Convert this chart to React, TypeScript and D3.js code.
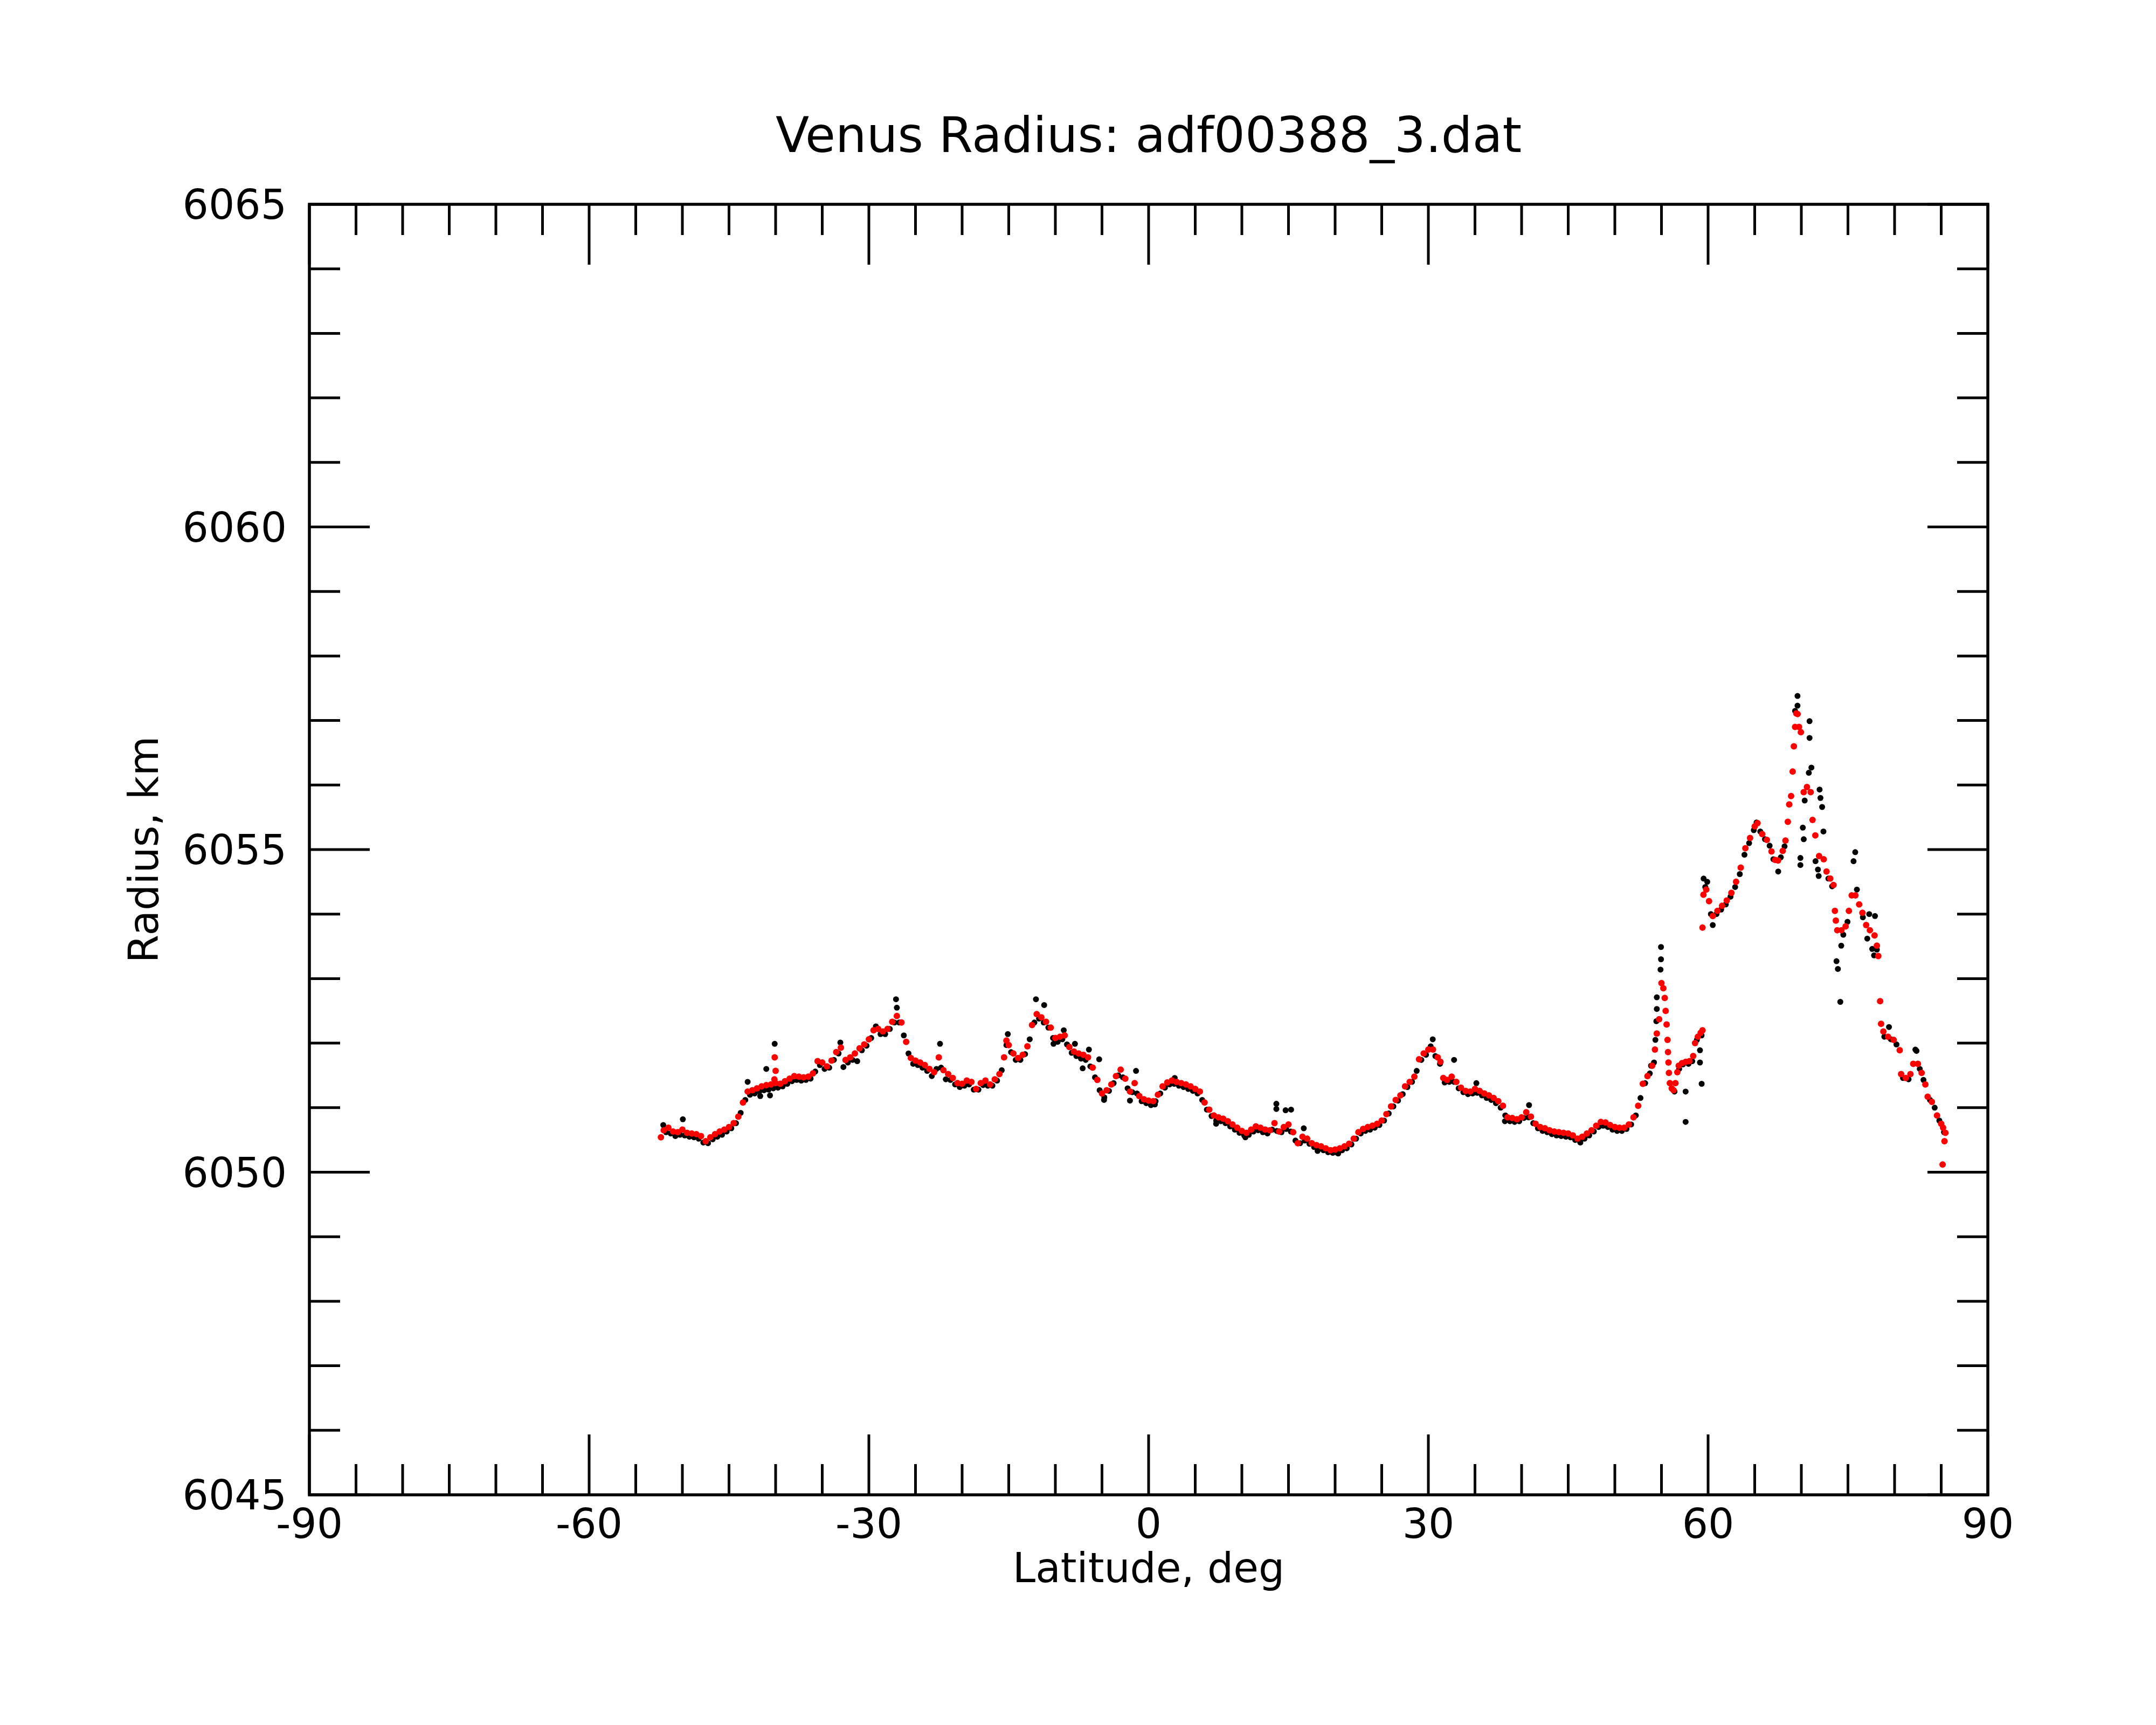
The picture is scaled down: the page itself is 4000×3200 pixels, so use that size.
import React from "react";
import * as d3 from "d3";

const WIDTH = 4000;
const HEIGHT = 3200;
const MARGINS = { top: 379, right: 312, bottom: 427, left: 574 };

const TITLE = "Venus Radius: adf00388_3.dat";
const X_LABEL = "Latitude, deg";
const Y_LABEL = "Radius, km";
const X_DOMAIN: [number, number] = [-90, 90];
const Y_DOMAIN: [number, number] = [6045, 6065];
const X_MAJOR = [-90, -60, -30, 0, 30, 60, 90];
const Y_MAJOR = [6045, 6050, 6055, 6060, 6065];

// smoothed profile (red), [latitude, radius]
const smoothed: [number, number][] = [
  [-52.3, 6050.54], [-52.0, 6050.65], [-51.5, 6050.69], [-51.0, 6050.63], [-50.5, 6050.62],
  [-50.0, 6050.66], [-49.5, 6050.61], [-49.0, 6050.6], [-48.5, 6050.59], [-48.0, 6050.56],
  [-47.5, 6050.48], [-47.0, 6050.54], [-46.5, 6050.59], [-46.0, 6050.63], [-45.5, 6050.66],
  [-45.0, 6050.7], [-44.5, 6050.76], [-44.0, 6050.86], [-43.5, 6051.08], [-43.0, 6051.25],
  [-42.5, 6051.27], [-42.0, 6051.3], [-41.5, 6051.33], [-41.0, 6051.35], [-40.5, 6051.36],
  [-40.1, 6051.78], [-40.0, 6051.57], [-40.13, 6051.44], [-40.0, 6051.38], [-39.5, 6051.37],
  [-39.0, 6051.41], [-38.5, 6051.45], [-38.0, 6051.49], [-37.5, 6051.48], [-37.0, 6051.47],
  [-36.5, 6051.48], [-36.0, 6051.53], [-35.5, 6051.72], [-35.0, 6051.7], [-34.5, 6051.64],
  [-34.0, 6051.73], [-33.5, 6051.86], [-33.0, 6051.93], [-32.5, 6051.74], [-32.0, 6051.78],
  [-31.5, 6051.84], [-31.0, 6051.92], [-30.5, 6051.98], [-30.0, 6052.06], [-29.5, 6052.2],
  [-29.0, 6052.22], [-28.5, 6052.18], [-28.0, 6052.22], [-27.5, 6052.33], [-27.0, 6052.42],
  [-26.5, 6052.32], [-26.0, 6052.02], [-25.5, 6051.77], [-25.0, 6051.73], [-24.5, 6051.7],
  [-24.0, 6051.66], [-23.5, 6051.6], [-23.0, 6051.55], [-22.5, 6051.78], [-22.0, 6051.58],
  [-21.5, 6051.52], [-21.0, 6051.46], [-20.5, 6051.38], [-20.0, 6051.37], [-19.5, 6051.42],
  [-19.0, 6051.4], [-18.5, 6051.29], [-18.0, 6051.38], [-17.5, 6051.42], [-17.0, 6051.36],
  [-16.5, 6051.44], [-16.0, 6051.52], [-15.5, 6051.78], [-15.25, 6052.04], [-15.0, 6051.97],
  [-14.5, 6051.84], [-14.0, 6051.77], [-13.5, 6051.82], [-13.0, 6051.95], [-12.5, 6052.28],
  [-12.0, 6052.45], [-11.5, 6052.4], [-11.0, 6052.33], [-10.5, 6052.24], [-10.0, 6052.08],
  [-9.5, 6052.1], [-9.0, 6052.12], [-8.5, 6051.94], [-8.0, 6051.87], [-7.5, 6051.84],
  [-7.0, 6051.82], [-6.5, 6051.78], [-6.0, 6051.62], [-5.5, 6051.43], [-5.0, 6051.22],
  [-4.5, 6051.27], [-4.0, 6051.36], [-3.5, 6051.49], [-3.0, 6051.59], [-2.5, 6051.45],
  [-2.0, 6051.25], [-1.5, 6051.38], [-1.0, 6051.18], [-0.5, 6051.13], [0.0, 6051.11],
  [0.5, 6051.1], [1.0, 6051.2], [1.5, 6051.33], [2.0, 6051.39], [2.5, 6051.42],
  [3.0, 6051.4], [3.5, 6051.38], [4.0, 6051.36], [4.5, 6051.33], [5.0, 6051.29],
  [5.5, 6051.25], [6.0, 6051.08], [6.5, 6050.97], [7.0, 6050.88], [7.5, 6050.85],
  [8.0, 6050.83], [8.5, 6050.79], [9.0, 6050.74], [9.5, 6050.69], [10.0, 6050.64],
  [10.5, 6050.61], [11.0, 6050.66], [11.5, 6050.71], [12.0, 6050.69], [12.5, 6050.66],
  [13.0, 6050.65], [13.5, 6050.76], [14.0, 6050.63], [14.5, 6050.7], [15.0, 6050.74],
  [15.5, 6050.62], [16.0, 6050.45], [16.5, 6050.55], [17.0, 6050.52], [17.5, 6050.45],
  [18.0, 6050.42], [18.5, 6050.4], [19.0, 6050.37], [19.5, 6050.34], [20.0, 6050.35],
  [20.5, 6050.37], [21.0, 6050.4], [21.5, 6050.44], [22.0, 6050.52], [22.5, 6050.62],
  [23.0, 6050.67], [23.5, 6050.7], [24.0, 6050.72], [24.5, 6050.75], [25.0, 6050.8],
  [25.5, 6050.9], [26.0, 6051.02], [26.5, 6051.12], [27.0, 6051.19], [27.5, 6051.33],
  [28.0, 6051.4], [28.5, 6051.48], [29.0, 6051.75], [29.5, 6051.84], [30.0, 6051.9],
  [30.5, 6051.9], [31.0, 6051.78], [31.3, 6051.71], [31.6, 6051.46], [32.0, 6051.43],
  [32.5, 6051.48], [33.0, 6051.4], [33.5, 6051.31], [34.0, 6051.26], [34.5, 6051.25],
  [35.0, 6051.29], [35.5, 6051.26], [36.0, 6051.22], [36.5, 6051.19], [37.0, 6051.15],
  [37.5, 6051.1], [38.0, 6051.03], [38.5, 6050.85], [39.0, 6050.84], [39.5, 6050.82],
  [40.0, 6050.85], [40.5, 6050.93], [41.0, 6050.86], [41.5, 6050.75], [42.0, 6050.7],
  [42.5, 6050.68], [43.0, 6050.65], [43.5, 6050.63], [44.0, 6050.62], [44.5, 6050.61],
  [45.0, 6050.6], [45.5, 6050.57], [46.0, 6050.52], [46.5, 6050.55], [47.0, 6050.6],
  [47.5, 6050.65], [48.0, 6050.72], [48.5, 6050.78], [49.0, 6050.77], [49.5, 6050.73],
  [50.0, 6050.7], [50.5, 6050.69], [51.0, 6050.69], [51.5, 6050.74], [52.0, 6050.85],
  [52.5, 6051.03], [53.0, 6051.37], [53.5, 6051.49], [54.0, 6051.65], [54.3, 6051.9],
  [54.5, 6052.15], [54.75, 6052.37], [55.0, 6052.93], [55.2, 6052.85], [55.35, 6052.7],
  [55.45, 6052.5], [55.55, 6052.29], [55.65, 6052.05], [55.7, 6051.86], [55.75, 6051.7],
  [55.8, 6051.54], [55.9, 6051.38], [56.1, 6051.3], [56.3, 6051.27], [56.5, 6051.38],
  [56.7, 6051.55], [56.85, 6051.65], [57.2, 6051.69], [57.6, 6051.71], [58.0, 6051.72],
  [58.4, 6051.8], [58.6, 6052.0], [58.9, 6052.1], [59.2, 6052.16], [59.4, 6052.2],
  [59.4, 6053.79], [59.5, 6054.3], [59.8, 6054.38], [60.1, 6054.2], [60.5, 6053.97],
  [61.0, 6054.05], [61.5, 6054.13], [62.0, 6054.21], [62.5, 6054.33], [63.0, 6054.5],
  [63.5, 6054.72], [64.0, 6055.02], [64.5, 6055.18], [65.0, 6055.36], [65.3, 6055.41],
  [65.8, 6055.24], [66.3, 6055.15], [66.8, 6054.97], [67.2, 6054.84], [67.5, 6054.83],
  [68.0, 6054.98], [68.3, 6055.14], [68.55, 6055.43], [68.7, 6055.7], [68.9, 6055.83],
  [69.07, 6056.21], [69.2, 6056.6], [69.33, 6056.9], [69.46, 6057.11], [69.6, 6057.1],
  [69.75, 6056.9], [69.95, 6056.82], [70.25, 6055.89], [70.6, 6055.97], [71.0, 6055.89],
  [71.2, 6055.46], [71.5, 6055.22], [71.9, 6054.9], [72.4, 6054.85], [72.7, 6054.66],
  [73.1, 6054.55], [73.45, 6054.45], [73.6, 6054.05], [73.7, 6053.9], [73.85, 6053.75],
  [74.3, 6053.75], [74.75, 6053.81], [75.1, 6054.05], [75.4, 6054.29], [75.8, 6054.29],
  [76.2, 6054.15], [76.55, 6054.02], [76.95, 6053.83], [77.35, 6053.75], [77.85, 6053.67],
  [78.1, 6053.51], [78.25, 6053.35], [78.45, 6052.65], [78.55, 6052.3], [78.8, 6052.18],
  [79.3, 6052.1], [79.9, 6052.05], [80.55, 6051.89], [80.7, 6051.52], [81.2, 6051.46],
  [81.7, 6051.52], [82.0, 6051.68], [82.5, 6051.68], [82.9, 6051.54], [83.3, 6051.36],
  [83.55, 6051.17], [84.0, 6051.09], [84.55, 6050.88], [85.0, 6050.75], [85.2, 6050.69],
  [85.45, 6050.61], [85.35, 6050.48], [85.15, 6050.12],
];

// raw measurements (black), [latitude, radius]
const raw: [number, number][] = [
  [-52.05, 6050.73], [-51.75, 6050.62], [-51.25, 6050.6], [-50.75, 6050.56], [-50.25, 6050.58],
  [-49.95, 6050.82], [-49.75, 6050.57], [-49.25, 6050.55], [-48.75, 6050.54], [-48.25, 6050.52],
  [-47.75, 6050.46], [-47.25, 6050.45], [-46.75, 6050.51], [-46.25, 6050.55], [-45.75, 6050.58],
  [-45.25, 6050.63], [-44.75, 6050.68], [-44.25, 6050.76], [-43.75, 6050.92], [-43.25, 6051.12],
  [-43.0, 6051.4], [-42.75, 6051.2], [-42.25, 6051.22], [-41.75, 6051.25], [-41.65, 6051.18],
  [-41.25, 6051.27], [-41.0, 6051.6], [-40.75, 6051.28], [-40.6, 6051.19], [-40.25, 6051.3],
  [-40.1, 6051.99], [-39.75, 6051.31], [-39.25, 6051.33], [-38.75, 6051.37], [-38.25, 6051.41],
  [-37.75, 6051.43], [-37.25, 6051.42], [-36.75, 6051.43], [-36.25, 6051.45], [-35.75, 6051.56],
  [-35.25, 6051.66], [-34.75, 6051.6], [-34.25, 6051.62], [-33.75, 6051.74], [-33.25, 6051.84],
  [-33.06, 6052.01], [-32.73, 6051.63], [-32.25, 6051.7], [-31.75, 6051.74], [-31.25, 6051.72],
  [-30.75, 6051.89], [-30.25, 6051.96], [-29.75, 6052.08], [-29.25, 6052.26], [-28.75, 6052.14],
  [-28.25, 6052.14], [-27.75, 6052.22], [-27.25, 6052.32], [-27.09, 6052.68], [-27.0, 6052.55],
  [-26.75, 6052.32], [-26.25, 6052.12], [-25.75, 6051.84], [-25.25, 6051.68], [-24.75, 6051.66],
  [-24.25, 6051.62], [-23.75, 6051.57], [-23.25, 6051.49], [-22.75, 6051.6], [-22.37, 6051.99],
  [-22.25, 6051.62], [-21.75, 6051.44], [-21.25, 6051.43], [-20.75, 6051.36], [-20.25, 6051.32],
  [-19.75, 6051.34], [-19.25, 6051.36], [-18.75, 6051.28], [-18.25, 6051.28], [-17.75, 6051.35],
  [-17.25, 6051.34], [-16.75, 6051.34], [-16.25, 6051.42], [-15.75, 6051.58], [-15.25, 6051.97],
  [-15.1, 6052.14], [-14.75, 6051.86], [-14.25, 6051.74], [-13.75, 6051.74], [-13.25, 6051.83],
  [-12.75, 6052.06], [-12.25, 6052.32], [-12.08, 6052.68], [-11.75, 6052.38], [-11.25, 6052.32],
  [-11.2, 6052.59], [-10.75, 6052.24], [-10.25, 6052.08], [-10.2, 6051.99], [-9.75, 6052.02],
  [-9.25, 6052.06], [-9.1, 6052.2], [-8.75, 6051.98], [-8.25, 6051.85], [-7.9, 6051.99],
  [-7.75, 6051.8], [-7.25, 6051.76], [-7.07, 6051.61], [-6.75, 6051.74], [-6.4, 6051.9],
  [-6.25, 6051.64], [-5.75, 6051.47], [-5.3, 6051.75], [-5.25, 6051.27], [-4.78, 6051.12],
  [-4.75, 6051.16], [-4.25, 6051.26], [-3.75, 6051.38], [-3.25, 6051.5], [-2.75, 6051.47],
  [-2.25, 6051.3], [-2.0, 6051.11], [-1.75, 6051.24], [-1.35, 6051.57], [-1.25, 6051.22],
  [-0.75, 6051.1], [-0.25, 6051.07], [0.25, 6051.04], [0.67, 6051.05], [0.75, 6051.1],
  [1.25, 6051.22], [1.75, 6051.31], [2.25, 6051.36], [2.75, 6051.37], [2.8, 6051.46],
  [3.25, 6051.34], [3.75, 6051.32], [4.25, 6051.29], [4.75, 6051.26], [5.25, 6051.22],
  [5.75, 6051.12], [6.25, 6050.97], [6.75, 6050.87], [7.24, 6050.75], [7.25, 6050.8],
  [7.75, 6050.79], [8.25, 6050.76], [8.75, 6050.71], [9.25, 6050.66], [9.75, 6050.61],
  [10.25, 6050.57], [10.38, 6050.54], [10.75, 6050.58], [11.25, 6050.63], [11.75, 6050.65],
  [12.25, 6050.62], [12.75, 6050.6], [13.25, 6050.66], [13.7, 6051.06], [13.7, 6050.98],
  [13.75, 6050.64], [14.25, 6050.62], [14.69, 6050.96], [14.75, 6050.67], [15.25, 6050.63],
  [15.28, 6050.97], [15.75, 6050.49], [16.25, 6050.45], [16.64, 6050.68], [16.75, 6050.49],
  [17.25, 6050.44], [17.75, 6050.39], [18.12, 6050.33], [18.25, 6050.36], [18.75, 6050.34],
  [19.25, 6050.31], [19.75, 6050.3], [20.25, 6050.3], [20.33, 6050.29], [20.75, 6050.34],
  [21.25, 6050.37], [21.75, 6050.43], [22.25, 6050.52], [22.75, 6050.6], [23.25, 6050.64],
  [23.75, 6050.66], [24.25, 6050.69], [24.75, 6050.73], [25.25, 6050.8], [25.75, 6050.91],
  [26.25, 6051.02], [26.75, 6051.11], [27.25, 6051.21], [27.75, 6051.32], [28.25, 6051.4],
  [28.75, 6051.57], [29.25, 6051.74], [29.75, 6051.82], [30.25, 6051.95], [30.47, 6052.06],
  [30.75, 6051.8], [31.25, 6051.68], [31.75, 6051.39], [32.25, 6051.4], [32.75, 6051.4],
  [32.76, 6051.74], [33.25, 6051.3], [33.75, 6051.24], [34.25, 6051.21], [34.75, 6051.22],
  [35.15, 6051.38], [35.25, 6051.23], [35.75, 6051.19], [36.25, 6051.15], [36.75, 6051.12],
  [37.25, 6051.07], [37.75, 6051.0], [38.21, 6050.79], [38.25, 6050.88], [38.75, 6050.79],
  [39.25, 6050.78], [39.75, 6050.79], [40.25, 6050.84], [40.75, 6050.85], [40.8, 6051.04],
  [41.25, 6050.76], [41.75, 6050.68], [42.25, 6050.64], [42.75, 6050.62], [43.25, 6050.59],
  [43.75, 6050.57], [44.25, 6050.56], [44.75, 6050.55], [45.25, 6050.54], [45.75, 6050.5],
  [46.25, 6050.48], [46.3, 6050.46], [46.75, 6050.52], [47.25, 6050.57], [47.75, 6050.63],
  [48.25, 6050.7], [48.75, 6050.72], [49.25, 6050.7], [49.75, 6050.66], [50.25, 6050.64],
  [50.75, 6050.64], [51.25, 6050.67], [51.75, 6050.74], [52.25, 6050.88], [52.75, 6051.15],
  [53.25, 6051.38], [53.75, 6051.53], [53.88, 6051.65], [54.2, 6051.7], [54.35, 6052.05],
  [54.45, 6052.34], [54.5, 6052.53], [54.5, 6052.71], [54.9, 6053.14], [54.95, 6053.3],
  [54.95, 6053.49], [56.4, 6051.25], [56.9, 6051.6], [57.3, 6051.67], [57.59, 6051.25],
  [57.59, 6050.78], [57.9, 6051.68], [58.3, 6051.72], [58.8, 6052.05], [59.13, 6051.89],
  [59.13, 6051.7], [59.3, 6052.12], [59.31, 6051.37], [59.52, 6054.55], [59.7, 6054.42],
  [59.91, 6054.5], [60.3, 6054.0], [60.5, 6053.83], [60.9, 6054.0], [61.4, 6054.07],
  [61.9, 6054.15], [62.4, 6054.27], [62.9, 6054.42], [63.4, 6054.62], [63.9, 6054.92],
  [64.4, 6055.1], [64.9, 6055.3], [65.2, 6055.42], [65.6, 6055.28], [66.1, 6055.16],
  [66.6, 6055.06], [67.0, 6054.85], [67.52, 6054.66], [67.8, 6054.88], [68.2, 6055.05],
  [69.33, 6057.15], [69.59, 6057.38], [69.59, 6057.23], [69.9, 6054.87], [69.9, 6054.76],
  [70.16, 6055.34], [70.26, 6055.16], [70.36, 6055.76], [70.8, 6056.19], [70.88, 6056.99],
  [70.88, 6056.73], [71.08, 6056.27], [71.52, 6054.82], [71.78, 6054.69], [71.86, 6054.59],
  [71.96, 6055.93], [72.05, 6055.8], [72.23, 6055.66], [72.37, 6055.28], [72.9, 6054.55],
  [73.3, 6054.43], [73.77, 6053.27], [73.92, 6053.15], [74.18, 6052.64], [74.28, 6053.51],
  [74.5, 6053.68], [74.95, 6053.88], [75.6, 6054.82], [75.78, 6054.96], [75.96, 6054.38],
  [76.6, 6053.95], [77.07, 6053.62], [77.28, 6054.0], [77.6, 6053.46], [77.8, 6053.36],
  [77.9, 6053.97], [78.1, 6053.45], [78.9, 6052.1], [79.4, 6052.25], [79.6, 6052.06],
  [80.2, 6051.98], [80.9, 6051.46], [81.5, 6051.44], [82.23, 6051.9], [82.35, 6051.88],
  [82.7, 6051.6], [83.1, 6051.43], [83.8, 6051.12], [84.3, 6051.0], [84.8, 6050.8],
  [85.3, 6050.62],
];

const FONT = "DejaVu Sans, Verdana, sans-serif";

const App = () => {
  const ref = React.useRef<SVGSVGElement>(null);

  React.useEffect(() => {
    const svg = d3.select(ref.current!);
    svg.selectAll("*").remove();

    const innerW = WIDTH - MARGINS.left - MARGINS.right;
    const innerH = HEIGHT - MARGINS.top - MARGINS.bottom;
    const x0 = MARGINS.left;
    const x1 = MARGINS.left + innerW;
    const y0 = MARGINS.top;
    const y1 = MARGINS.top + innerH;

    const x = d3.scaleLinear().domain(X_DOMAIN).range([x0, x1]);
    const y = d3.scaleLinear().domain(Y_DOMAIN).range([y1, y0]);

    svg
      .append("rect")
      .attr("width", WIDTH)
      .attr("height", HEIGHT)
      .attr("fill", "white");

    // data: raw first, smoothed on top
    svg
      .append("g")
      .selectAll("circle")
      .data(raw)
      .enter()
      .append("circle")
      .attr("cx", (d) => x(d[0]))
      .attr("cy", (d) => y(d[1]))
      .attr("r", 5.5)
      .attr("fill", "black");

    svg
      .append("g")
      .selectAll("circle")
      .data(smoothed)
      .enter()
      .append("circle")
      .attr("cx", (d) => x(d[0]))
      .attr("cy", (d) => y(d[1]))
      .attr("r", 6)
      .attr("fill", "#ff0000");

    // ticks on all four sides, pointing inward
    const MAJOR = 112;
    const MINOR = 57;
    const ticks = svg.append("g").attr("stroke", "black").attr("stroke-width", 5);

    d3.range(-90, 91, 5).forEach((t) => {
      const len = X_MAJOR.includes(t) ? MAJOR : MINOR;
      ticks.append("line").attr("x1", x(t)).attr("x2", x(t)).attr("y1", y1).attr("y2", y1 - len);
      ticks.append("line").attr("x1", x(t)).attr("x2", x(t)).attr("y1", y0).attr("y2", y0 + len);
    });
    d3.range(6045, 6066, 1).forEach((t) => {
      const len = Y_MAJOR.includes(t) ? MAJOR : MINOR;
      ticks.append("line").attr("x1", x0).attr("x2", x0 + len).attr("y1", y(t)).attr("y2", y(t));
      ticks.append("line").attr("x1", x1).attr("x2", x1 - len).attr("y1", y(t)).attr("y2", y(t));
    });

    svg
      .append("rect")
      .attr("x", x0)
      .attr("y", y0)
      .attr("width", innerW)
      .attr("height", innerH)
      .attr("fill", "none")
      .attr("stroke", "black")
      .attr("stroke-width", 5.5);

    const labels = svg
      .append("g")
      .attr("font-family", FONT)
      .attr("font-size", 76)
      .attr("fill", "black");

    X_MAJOR.forEach((t) => {
      labels
        .append("text")
        .attr("x", x(t))
        .attr("y", y1 + 80)
        .attr("text-anchor", "middle")
        .text(String(t));
    });
    Y_MAJOR.forEach((t) => {
      labels
        .append("text")
        .attr("x", x0 - 42)
        .attr("y", y(t))
        .attr("dy", "0.36em")
        .attr("text-anchor", "end")
        .text(String(t));
    });

    labels
      .append("text")
      .attr("x", (x0 + x1) / 2)
      .attr("y", y1 + 162)
      .attr("text-anchor", "middle")
      .text(X_LABEL);

    labels
      .append("text")
      .attr("transform", `translate(293, ${(y0 + y1) / 2}) rotate(-90)`)
      .attr("text-anchor", "middle")
      .text(Y_LABEL);

    labels
      .append("text")
      .attr("x", (x0 + x1) / 2)
      .attr("y", 282)
      .attr("font-size", 91)
      .attr("text-anchor", "middle")
      .text(TITLE);
  }, []);

  return (
    <svg
      ref={ref}
      width={WIDTH}
      height={HEIGHT}
      style={{ position: "absolute", left: 0, top: 0, display: "block" }}
    />
  );
};

export default App;
